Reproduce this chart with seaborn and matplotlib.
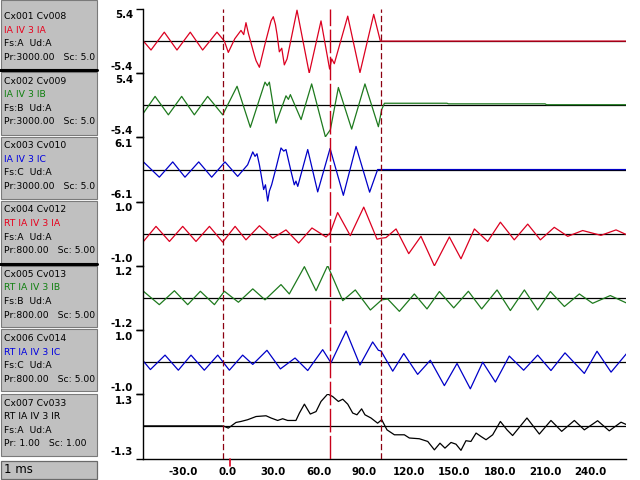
import numpy as np
import pandas as pd
import matplotlib
matplotlib.use("Agg")
import matplotlib.pyplot as plt
import matplotlib.transforms as mtransforms
import seaborn as sns
from matplotlib.patches import Rectangle

# ---------------- channel metadata ----------------
ch_ids = ["Cx001 Cv008", "Cx002 Cv009", "Cx003 Cv010", "Cx004 Cv012",
          "Cx005 Cv013", "Cx006 Cv014", "Cx007 Cv033"]
ch_names = ["IA IV 3 IA", "IA IV 3 IB", "IA IV 3 IC", "RT IA IV 3 IA",
            "RT IA IV 3 IB", "RT IA IV 3 IC", "RT IA IV 3 IR"]
ch_phase = ["Fs:A  Ud:A", "Fs:B  Ud:A", "Fs:C  Ud:A", "Fs:A  Ud:A",
            "Fs:B  Ud:A", "Fs:C  Ud:A", "Fs:A  Ud:A"]
ch_scale = ["Pr:3000.00   Sc: 5.00", "Pr:3000.00   Sc: 5.00", "Pr:3000.00   Sc: 5.00",
            "Pr:800.00   Sc: 5.00", "Pr:800.00   Sc: 5.00", "Pr:800.00   Sc: 5.00",
            "Pr: 1.00   Sc: 1.00"]
ch_range = [5.4, 5.4, 6.1, 1.0, 1.2, 1.0, 1.3]
time_unit = "1 ms"

x_ticks = [-30, 0, 30, 60, 90, 120, 150, 180, 210, 240]
cursor_times = [-3.3, 67.4, 101.2]
trigger_time = 1.0

# ---------------- waveform samples (ms, value) ----------------
t1 = [-56, -51.0, -42.2, -33.8, -25.0, -16.8, -7.3, -2.4, 0.2, 4.5,
      8.6, 10.4, 11.9, 13.5, 17.5, 18.6, 20.8, 24.5, 28.5, 30.0,
      31.4, 32.5, 34.0, 35.6, 37.3, 39.1, 45.7, 53.8, 61.6, 67.3,
      68.7, 70.4, 79.3, 87.4, 96.5, 100.9, 264]
v1 = [0.0, -1.5, 1.5, -1.5, 1.5, -1.5, 1.5, 0.0, -1.9, 0.4,
      1.8, 1.1, 3.1, 1.3, -2.4, -3.3, -4.4, -0.5, 3.4, 4.1,
      2.8, 1.1, -1.8, -1.2, -4.0, -3.0, 5.2, -5.4, 3.4, -4.7,
      -3.0, -3.8, 4.2, -5.3, 4.5, 0.0, 0.0]

t2 = [-56, -48.3, -39.5, -30.7, -22.3, -13.5, -3.5, 6.0, 14.8, 24.5,
      26.0, 27.4, 31.8, 38.4, 40.0, 41.3, 48.4, 55.4, 64.5, 67.8,
      73.1, 81.9, 90.7, 99.6, 101.8, 103.6, 145, 146, 210, 211, 264]
v2 = [-1.3, 1.5, -1.6, 1.5, -1.6, 1.5, -1.6, 3.2, -3.7, 3.9,
      3.3, 3.9, -3.0, 1.6, 1.0, 1.8, -2.4, 3.6, -5.3, -4.1,
      3.0, -4.0, 3.6, -3.6, -0.7, 0.35, 0.35, 0.25, 0.25, 0.1, 0.1]

t3 = [-56, -45.5, -36.6, -28.5, -19.4, -10.8, -2.0, 6.4, 13.0, 16.4,
      17.9, 19.2, 20.8, 22.3, 23.6, 24.8, 26.3, 27.4, 28.9, 31.8,
      35.1, 36.9, 38.4, 41.7, 43.9, 45.0, 46.2, 52.8, 59.4, 67.6,
      76.4, 84.8, 93.8, 99.1, 264]
v3 = [1.45, -1.45, 1.45, -1.45, 1.45, -1.45, 1.45, -1.3, 0.9, 3.35,
      2.5, 3.0, 0.9, -1.6, -3.8, -2.9, -6.0, -4.1, -2.9, 0.3,
      4.1, 3.5, 3.8, -0.3, -2.9, -2.2, -3.2, 3.8, -4.25, 4.0,
      -4.9, 4.4, -4.3, 0.0, 0.0]

t4 = [-56, -47.7, -38.8, -30.0, -21.2, -12.3, -3.5, 4.7, 11.9, 20.8,
      29.6, 38.4, 46.8, 55.6, 64.9, 67.6, 72.6, 81.0, 89.9, 98.7,
      101.3, 104.6, 111.3, 119.7, 127.8, 136.7, 146.6, 154.3, 163.2, 172.0,
      180.4, 189.6, 198.5, 206.9, 216.1, 225.0, 234.9, 247.0, 257.0, 264]
v4 = [-0.24, 0.23, -0.24, 0.23, -0.24, 0.23, -0.26, 0.23, -0.19, 0.25,
      -0.14, 0.12, -0.29, 0.18, -0.1, 0.02, 0.66, -0.06, 0.83, -0.17,
      -0.14, -0.12, 0.15, -0.62, -0.08, -1.0, -0.1, -0.78, 0.15, -0.24,
      0.36, -0.19, 0.3, -0.19, 0.2, -0.08, 0.1, -0.05, 0.12, -0.03]

t5 = [-56, -45.5, -35.5, -26.7, -18.3, -9.0, -2.4, 6.9, 16.4, 24.5,
      35.1, 40.6, 50.6, 58.3, 66.0, 76.0, 84.3, 94.3, 101.8, 105.8,
      113.5, 123.4, 131.8, 140.0, 149.5, 159.2, 168.0, 178.2, 187.0, 196.3,
      205.1, 213.5, 222.8, 232.7, 241.5, 253.2, 264]
v5 = [0.25, -0.25, 0.27, -0.25, 0.25, -0.25, 0.25, -0.16, 0.34, -0.07,
      0.5, 0.15, 1.17, 0.27, 1.21, -0.1, 0.3, -0.45, -0.07, -0.04,
      -0.5, 0.15, -0.41, 0.24, -0.37, 0.25, -0.41, 0.3, -0.47, 0.3,
      -0.45, 0.24, -0.32, 0.15, -0.2, 0.09, -0.19]

t6 = [-56, -51.4, -41.7, -32.9, -24.5, -15.7, -6.8, 0.9, 9.7, 16.4,
      25.8, 34.7, 44.4, 52.8, 62.7, 68.2, 78.2, 87.4, 95.8, 99.6,
      101.3, 109.1, 116.4, 125.6, 134.0, 143.3, 151.7, 160.5, 168.7, 177.1,
      186.3, 195.8, 205.1, 213.9, 223.2, 236.0, 244.4, 253.7, 264]
v6 = [0.03, -0.23, 0.22, -0.25, 0.22, -0.25, 0.22, -0.25, 0.22, -0.07,
      0.37, -0.21, 0.13, -0.26, 0.39, -0.02, 0.97, -0.09, 0.63, 0.37,
      0.35, -0.28, 0.27, -0.38, 0.06, -0.73, -0.04, -0.83, 0.0, -0.62,
      0.19, -0.25, 0.22, -0.26, 0.29, -0.35, 0.34, -0.31, 0.27]

t7 = [-56, -4.0, -2.4, 0.2, 5.3, 8.6, 13.0, 18.6, 25.2, 28.5,
      32.9, 36.2, 39.5, 45.0, 47.3, 50.6, 54.5, 58.3, 61.6, 66.0,
      69.3, 73.1, 76.0, 79.3, 82.6, 85.4, 88.5, 90.7, 94.7, 99.1,
      101.8, 105.3, 110.2, 116.8, 120.1, 126.7, 132.3, 136.7, 140.4, 143.7,
      147.7, 151.0, 154.3, 157.6, 160.9, 164.3, 167.6, 170.9, 175.3, 180.4,
      184.8, 188.5, 198.0, 206.2, 213.9, 221.0, 229.4, 236.0, 244.8, 252.5,
      260.3, 264]
v7 = [0.02, 0.02, 0.0, -0.07, 0.16, 0.2, 0.27, 0.4, 0.43, 0.34,
      0.24, 0.31, 0.24, 0.24, 0.54, 0.9, 0.5, 0.6, 1.01, 1.31,
      1.21, 1.01, 1.1, 0.9, 0.54, 0.47, 0.71, 0.47, 0.34, 0.13,
      0.27, -0.14, -0.34, -0.34, -0.47, -0.5, -0.61, -0.95, -0.68, -0.88,
      -0.65, -0.72, -0.97, -0.58, -0.61, -0.27, -0.41, -0.54, -0.34, 0.2,
      -0.14, -0.37, 0.34, -0.31, 0.24, -0.2, 0.24, -0.14, 0.23, -0.18,
      0.17, 0.07]

times = [t1, t2, t3, t4, t5, t6, t7]
values = [v1, v2, v3, v4, v5, v6, v7]

# ---------------- styling ----------------
wave_colors = ["#dc0020", "#1e7a1e", "#0000c8", "#dc0020", "#1e7a1e", "#0000c8", "#000000"]
name_colors = ["#e8001c", "#108010", "#0000e0", "#e8001c", "#108010", "#0000e0", "#000000"]

sns.set_theme(style="white")
plt.rcParams['font.family'] = ['DejaVu Sans']
plt.rcParams['lines.scale_dashes'] = False

W, H = 640, 480
fig = plt.figure(figsize=(6.4, 4.8), dpi=100)
fig.patch.set_facecolor("white")

x_min, x_max = -56.3, 263.6
plot_left, plot_right, plot_top, plot_bot = 143, 626, 9, 458.5
rect_l, rect_b = plot_left / W, 1 - plot_bot / H
rect_w, rect_h = (plot_right - plot_left) / W, (plot_bot - plot_top) / H

gs = fig.add_gridspec(7, 1, left=rect_l, right=rect_l + rect_w,
                      bottom=rect_b, top=rect_b + rect_h, hspace=0)
axes = [fig.add_subplot(gs[i]) for i in range(7)]

tick_fp = matplotlib.font_manager.FontProperties(family="DejaVu Sans", weight="bold", size=7.4)

def px_offset(dx, dy):
    return mtransforms.ScaledTranslation(dx / 100.0, dy / 100.0, fig.dpi_scale_trans)

for i, ax in enumerate(axes):
    r = ch_range[i]
    df = pd.DataFrame({"t": times[i], "v": values[i]})
    ax.set_facecolor("none")
    ax.axhline(0, color="black", lw=0.9, zorder=1)
    sns.lineplot(data=df, x="t", y="v", ax=ax, color=wave_colors[i], lw=0.9,
                 estimator=None, sort=False, legend=False, zorder=2)
    ax.set_xlim(x_min, x_max)
    ax.set_ylim(-r, r)
    ax.set_xlabel("")
    ax.set_ylabel("")
    ax.grid(False)
    for s in ["top", "right", "bottom"]:
        ax.spines[s].set_visible(False)
    ax.spines["left"].set_color("black")
    ax.spines["left"].set_linewidth(1.0)
    ax.set_yticks([-r, r])
    ax.set_yticklabels([])
    ax.tick_params(axis="y", left=True, length=5, width=1, pad=2, color="black")
    ytr = ax.get_yaxis_transform()
    ax.text(0, r, f"{r:.1f}", transform=ytr + px_offset(-10, -6.5),
            ha="right", va="center", fontproperties=tick_fp, color="black")
    ax.text(0, -r, f"{-r:.1f}", transform=ytr + px_offset(-10, 6.5),
            ha="right", va="center", fontproperties=tick_fp, color="black")
    if i < 6:
        ax.set_xticks([])
    else:
        ax.spines["bottom"].set_visible(True)
        ax.spines["bottom"].set_color("black")
        ax.spines["bottom"].set_linewidth(1.0)
        ax.set_xticks(x_ticks)
        ax.set_xticklabels([f"{x:.1f}" for x in x_ticks])
        ax.tick_params(axis="x", bottom=True, length=0, pad=6)
        for lab in ax.get_xticklabels():
            lab.set_fontproperties(tick_fp)
            lab.set_color("black")

# overlay for cursors spanning all channels
ov = fig.add_axes([rect_l, rect_b, rect_w, rect_h])
ov.set_xlim(x_min, x_max)
ov.set_ylim(0, 1)
ov.axis("off")
ov.patch.set_alpha(0)
ov.axvline(cursor_times[0], color="#8c0010", lw=0.9, ls=(0, (4.5, 2.2)))
ov.axvline(cursor_times[1], color="#c8001a", lw=1.0, ls=(0, (17, 2.5)))
ov.axvline(cursor_times[2], color="#8c0010", lw=0.9, ls=(0, (4.5, 2.2)))
ov.axvline(trigger_time, ymin=-0.016, ymax=0, color="#e00020", lw=1.2, clip_on=False)

# ---------------- left info panel ----------------
pn = fig.add_axes([0, 0, 95 / W, 1])
pn.set_xlim(0, 95)
pn.set_ylim(480, 0)
pn.axis("off")

box_spans = [(0, 68.5), (72, 134.5), (137, 199), (201, 262.5),
             (265.5, 326.5), (329, 391), (393.5, 455.5)]
for i, (top, bot) in enumerate(box_spans):
    pn.add_patch(Rectangle((1, top), 96, bot - top, facecolor="#c0c0c0",
                           edgecolor="#7a7a7a", lw=0.8, clip_on=False))
    y0 = 16.7 + 64.4 * i
    lines = [(ch_ids[i], "black"), (ch_names[i], name_colors[i]),
             (ch_phase[i], "black"), (ch_scale[i], "black")]
    for k, (txt, col) in enumerate(lines):
        pn.text(4, y0 + 13.6 * k, txt, color=col, fontsize=6.7,
                family="DejaVu Sans", va="center", ha="left", clip_on=True)

for ysep in (70.3, 264.0):
    pn.plot([0, 97], [ysep, ysep], color="black", lw=2.2, clip_on=False)

pn.add_patch(Rectangle((1, 460.5), 96, 18, facecolor="#c0c0c0",
                       edgecolor="#6a6a6a", lw=0.9, clip_on=False))
pn.text(4, 469.5, time_unit, fontsize=8.5, family="DejaVu Sans",
        va="center", ha="left", color="black")

fig.savefig("out.png", dpi=100)
